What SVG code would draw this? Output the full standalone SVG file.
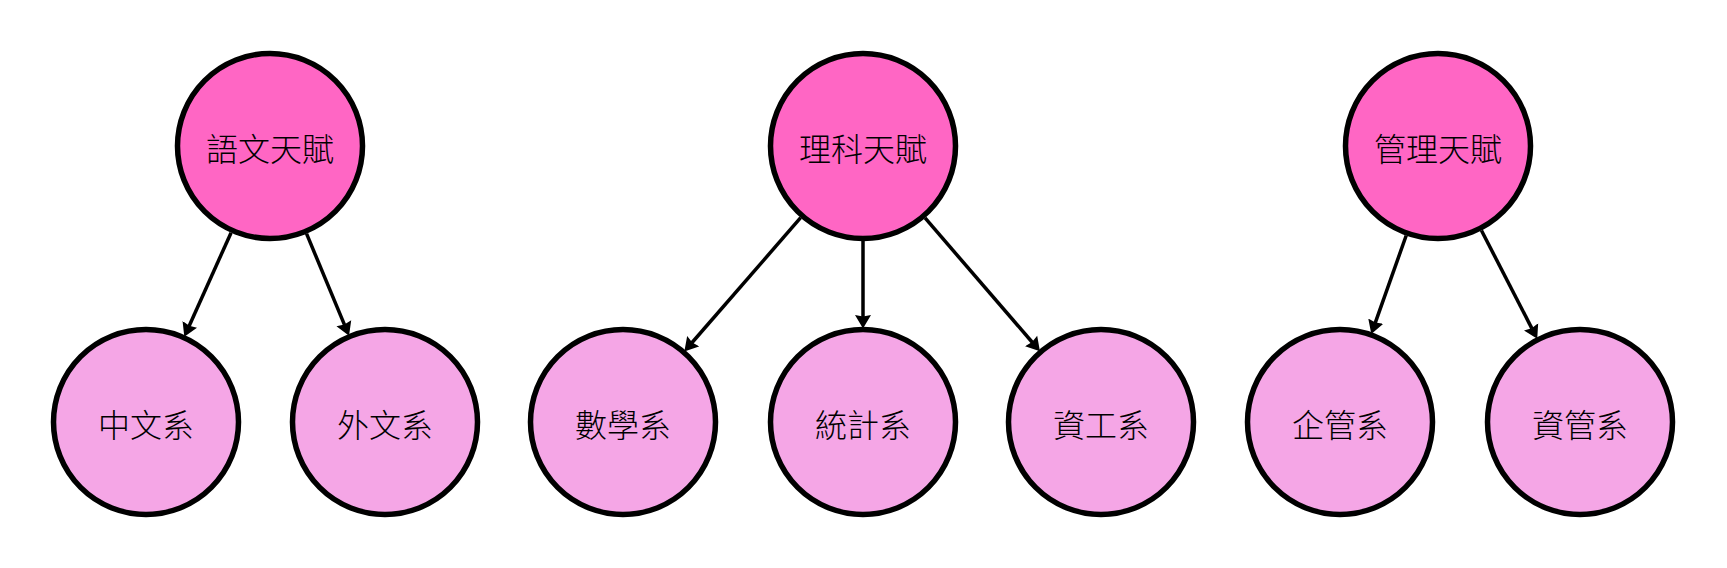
<svg xmlns="http://www.w3.org/2000/svg" width="1727" height="568" viewBox="0 0 1727 568">
<style>
.top{fill:#ff66c4;stroke:#000;stroke-width:5.5}
.bot{fill:#f5a6e6;stroke:#000;stroke-width:5.5}
.lbl{font-family:"Noto Sans CJK TC","Noto Sans CJK SC",sans-serif;font-size:32px;font-weight:300;fill:#000;text-anchor:middle;dominant-baseline:central}
.edge{stroke:#000;stroke-width:3.5;fill:none}
</style>
<defs>
<marker id="arr" markerUnits="userSpaceOnUse" markerWidth="15" markerHeight="17" refX="2" refY="8" orient="auto" viewBox="0 0 15 16">
<path d="M0,0 L13.5,8 L0,16 L1.5,8 z" fill="#000"/>
</marker>
</defs>
<rect width="1727" height="568" fill="#fff"/>
<g id="connectors">
<line class="edge" x1="231.07" y1="232.66" x2="189.03" y2="326.22" marker-end="url(#arr)"/>
<line class="edge" x1="306.54" y1="233.69" x2="344.61" y2="325.08" marker-end="url(#arr)"/>
<line class="edge" x1="800.66" y1="217.69" x2="691.9" y2="342.77" marker-end="url(#arr)"/>
<line class="edge" x1="863" y1="241" x2="863" y2="317" marker-end="url(#arr)"/>
<line class="edge" x1="925.04" y1="217.94" x2="1032.43" y2="342.49" marker-end="url(#arr)"/>
<line class="edge" x1="1406.21" y1="235.53" x2="1375.14" y2="323.05" marker-end="url(#arr)"/>
<line class="edge" x1="1481.46" y1="230.47" x2="1531.97" y2="328.64" marker-end="url(#arr)"/>
</g>
<g id="n-language"><circle class="top" cx="270" cy="146" r="92.5"/><text class="lbl" x="270" y="147">語文天賦</text></g>
<g id="n-science"><circle class="top" cx="863" cy="146" r="92.5"/><text class="lbl" x="863" y="147">理科天賦</text></g>
<g id="n-management"><circle class="top" cx="1438" cy="146" r="92.5"/><text class="lbl" x="1438" y="147">管理天賦</text></g>
<g id="n-chinese"><circle class="bot" cx="146" cy="422" r="92.5"/><text class="lbl" x="146" y="423">中文系</text></g>
<g id="n-foreign"><circle class="bot" cx="385" cy="422" r="92.5"/><text class="lbl" x="385" y="423">外文系</text></g>
<g id="n-math"><circle class="bot" cx="623" cy="422" r="92.5"/><text class="lbl" x="623" y="423">數學系</text></g>
<g id="n-stats"><circle class="bot" cx="863" cy="422" r="92.5"/><text class="lbl" x="863" y="423">統計系</text></g>
<g id="n-cs"><circle class="bot" cx="1101" cy="422" r="92.5"/><text class="lbl" x="1101" y="423">資工系</text></g>
<g id="n-ba"><circle class="bot" cx="1340" cy="422" r="92.5"/><text class="lbl" x="1340" y="423">企管系</text></g>
<g id="n-im"><circle class="bot" cx="1580" cy="422" r="92.5"/><text class="lbl" x="1580" y="423">資管系</text></g>
</svg>
